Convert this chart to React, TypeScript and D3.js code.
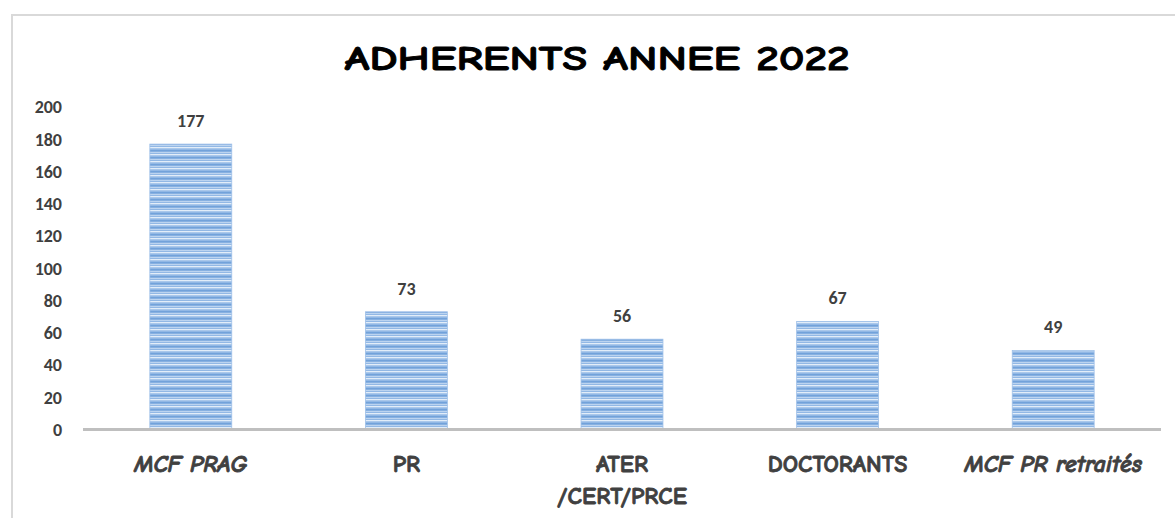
import React from "react";
import * as d3 from "d3";

const width = 1175;
const height = 518;
const margin = { top: 107, right: 14, bottom: 88.5, left: 83 };

const categories = ["MCF PRAG", "PR", "ATER\n/CERT/PRCE", "DOCTORANTS", "MCF PR retraités"];
const italicCats = ["MCF PRAG", "MCF PR retraités"];
const values = [177, 73, 56, 67, 49];
const yTicks = [0, 20, 40, 60, 80, 100, 120, 140, 160, 180, 200];
const title = "ADHERENTS ANNEE 2022";

const comic = "'Comic Sans MS', 'Comic Neue', 'DejaVu Sans', sans-serif";
const calibri = "Carlito, Calibri, 'Open Sans', 'Liberation Sans', sans-serif";

export default function App() {
  const x = d3
    .scaleBand<string>()
    .domain(categories)
    .range([margin.left, width - margin.right])
    .paddingInner(0.62)
    .paddingOuter(0.31);

  const y = d3
    .scaleLinear()
    .domain([0, 200])
    .range([height - margin.bottom, margin.top]);

  const cx = (c: string) => (x(c) ?? 0) + x.bandwidth() / 2;

  return (
    <svg
      width={width}
      height={height}
      style={{ position: "absolute", left: 0, top: 0, background: "#fff" }}
    >
      <defs>
        <pattern id="stripes" width="8" height="7" patternUnits="userSpaceOnUse">
          <rect width="8" height="7" fill="#92b8e5" />
          <rect y="0" width="8" height="1.3" fill="#e2edf9" />
          <rect y="3" width="8" height="1.3" fill="#72a2da" />
          <rect y="5" width="8" height="1" fill="#bcd4f0" />
        </pattern>
      </defs>

      {/* chart frame */}
      <rect x={12} y={15} width={1300} height={700} fill="none" stroke="#d9d9d9" strokeWidth={2} />

      <text
        x={597}
        y={70}
        textAnchor="middle"
        fontFamily={comic}
        fontWeight="bold"
        fontSize={34}
        textLength={505}
        lengthAdjust="spacingAndGlyphs"
        fill="#000"
        stroke="#000"
        strokeWidth={0.9}
      >
        {title}
      </text>

      {/* y axis labels */}
      <g fontFamily={calibri} fontWeight="bold" fontSize={18} fill="#404040" textAnchor="end">
        {yTicks.map(t => (
          <text key={t} x={62} y={y(t)} dy="0.36em">
            {t}
          </text>
        ))}
      </g>

      {/* bars */}
      <g>
        {categories.map((c, i) => (
          <rect
            key={c}
            x={x(c)}
            y={y(values[i])}
            width={x.bandwidth()}
            height={y(0) - y(values[i])}
            fill="url(#stripes)"
            stroke="#9fc0e8"
            strokeWidth={0.8}
          />
        ))}
      </g>

      {/* baseline */}
      <line
        x1={margin.left}
        x2={width - margin.right}
        y1={y(0)}
        y2={y(0)}
        stroke="#bfbfbf"
        strokeWidth={3}
      />

      {/* value labels */}
      <g fontFamily={calibri} fontWeight="bold" fontSize={18} fill="#404040" textAnchor="middle">
        {categories.map((c, i) => (
          <text key={c} x={cx(c)} y={y(values[i]) - 17}>
            {values[i]}
          </text>
        ))}
      </g>

      {/* category labels */}
      <g
        fontFamily={comic}
        fontWeight="bold"
        fontSize={24}
        fill="#404040"
        stroke="#404040"
        strokeWidth={0.8}
        textAnchor="middle"
      >
        {categories.map(c => (
          <text
            key={c}
            x={cx(c)}
            y={y(0) + 42}
            fontStyle={italicCats.includes(c) ? "italic" : "normal"}
          >
            {c.split("\n").map((line, j) => (
              <tspan key={j} x={cx(c)} dy={j === 0 ? 0 : 32}>
                {line}
              </tspan>
            ))}
          </text>
        ))}
      </g>
    </svg>
  );
}
